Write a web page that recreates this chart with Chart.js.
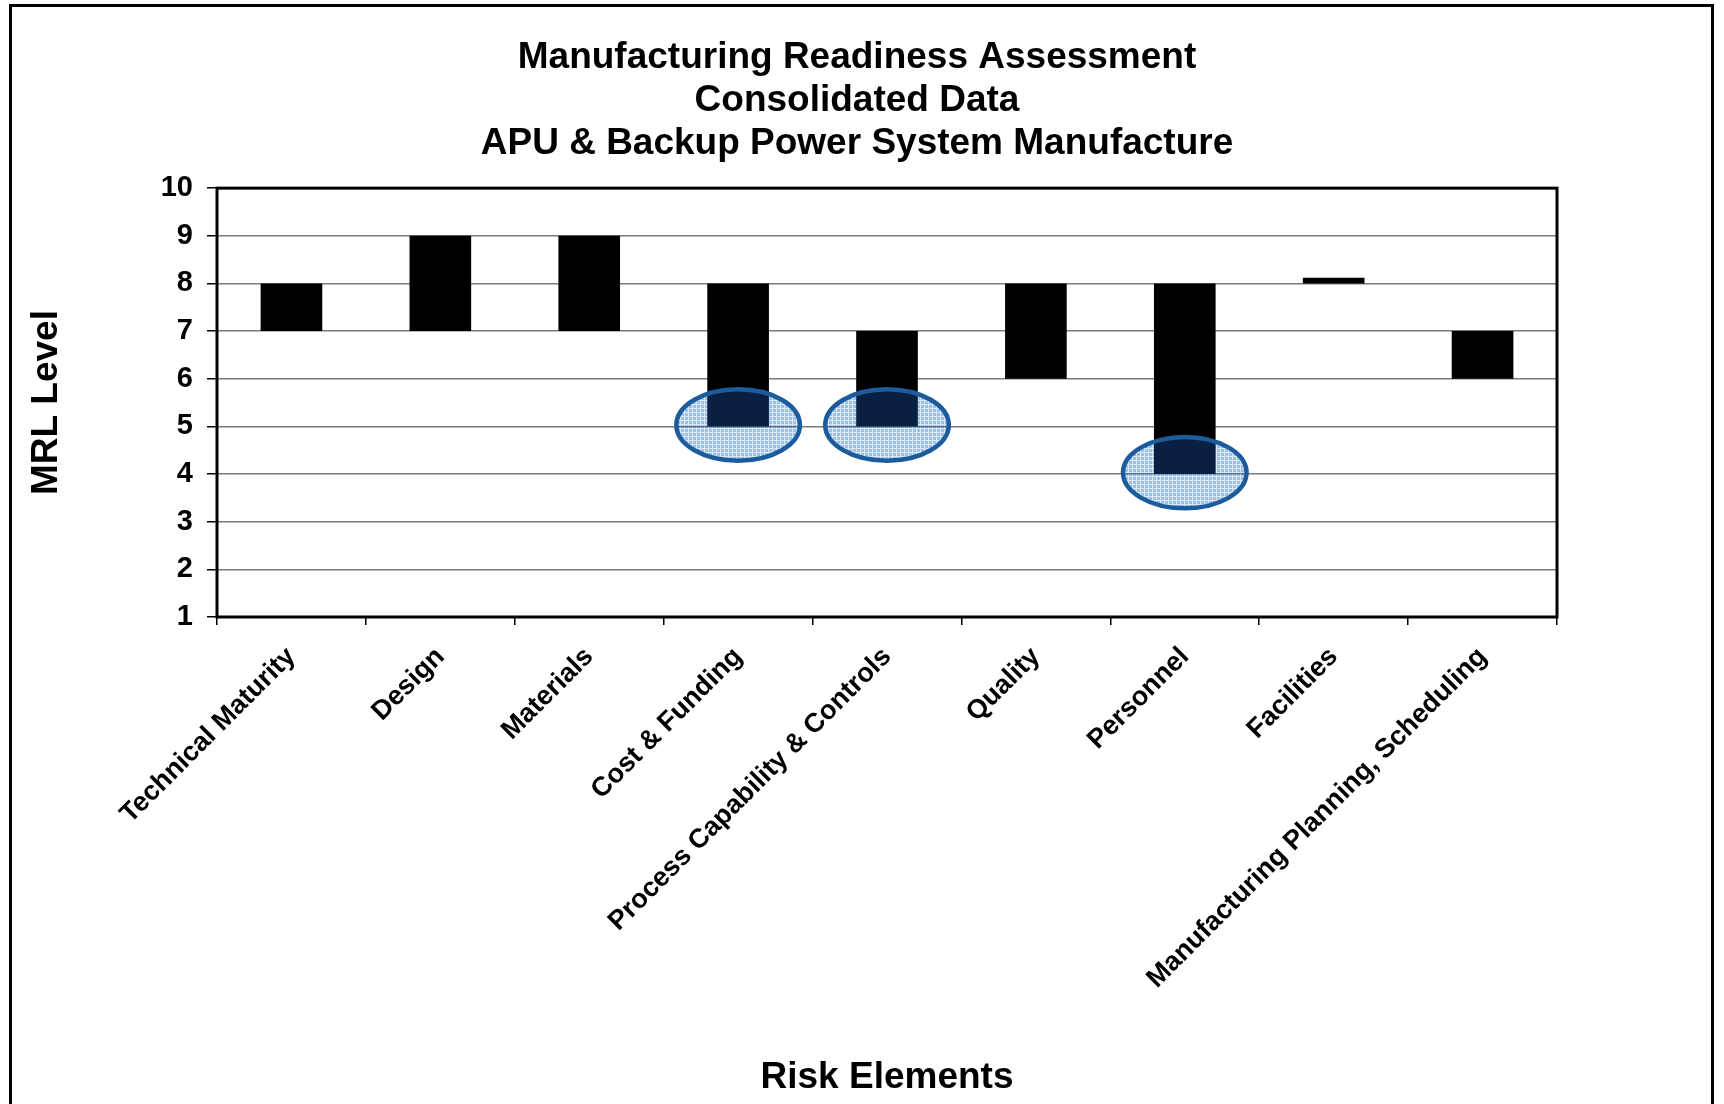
<!DOCTYPE html>
<html>
<head>
<meta charset="utf-8">
<title>Manufacturing Readiness Assessment</title>
<script src="https://cdn.jsdelivr.net/npm/chart.js@4.4.0/dist/chart.umd.min.js"></script>
<style>
  html, body { margin: 0; padding: 0; background: #fff; }
  #wrap { position: relative; width: 1724px; height: 1104px; overflow: hidden; }
  #frame { position: absolute; left: 9px; top: 4px; width: 1705px; height: 1200px; border: 3px solid #000; box-sizing: border-box; pointer-events: none; }
  canvas { position: absolute; left: 0; top: 0; }
</style>
</head>
<body>
<div id="wrap">
  <canvas id="mrlChart" width="1724" height="1104"></canvas>
  <div id="frame"></div>
</div>
<script>
// Risk elements and their MRL range (low .. high)
const categories = [
    'Technical Maturity',
    'Design',
    'Materials',
    'Cost & Funding',
    'Process Capability & Controls',
    'Quality',
    'Personnel',
    'Facilities',
    'Manufacturing Planning, Scheduling'
];
const lowLevels = [7, 7, 7, 5, 5, 6, 4, 8, 6];
const highLevels = [8, 9, 9, 8, 7, 8, 8, 8.12, 7];
const mrlTicks = [1, 2, 3, 4, 5, 6, 7, 8, 9, 10];
// elements circled at their lowest level
const flaggedElements = ['Cost & Funding', 'Process Capability & Controls', 'Personnel'];

const titleLines = [
    'Manufacturing Readiness Assessment',
    'Consolidated Data',
    'APU & Backup Power System Manufacture'
];

document.addEventListener('DOMContentLoaded', function () {
    Chart.defaults.font.family = "'Liberation Sans', Arial, sans-serif";
    Chart.defaults.color = '#000';

    // light blue dotted fill for the highlight ellipses
    const tile = document.createElement('canvas');
    tile.width = 4;
    tile.height = 4;
    const t = tile.getContext('2d');
    t.fillStyle = '#9cb8de';
    t.fillRect(0, 0, 4, 4);
    t.fillStyle = '#d8e4f3';
    t.fillRect(0, 0, 4, 1);
    t.fillRect(0, 0, 1, 4);

    const frameBox = {
        id: 'frameBox',
        afterDatasetsDraw(chart) {
            const { ctx, chartArea: a } = chart;
            ctx.save();
            ctx.strokeStyle = '#000';
            ctx.lineWidth = 3;
            ctx.strokeRect(a.left, a.top, a.right - a.left, a.bottom - a.top);
            ctx.restore();
        }
    };

    const riskEllipses = {
        id: 'riskEllipses',
        afterDatasetsDraw(chart) {
            const { ctx, scales: { x, y } } = chart;
            const pattern = ctx.createPattern(tile, 'repeat');
            const catWidth = x.getPixelForValue(1) - x.getPixelForValue(0);
            ctx.save();
            flaggedElements.forEach(function (name) {
                const i = categories.indexOf(name);
                const cx = x.getPixelForValue(i);
                const cy = y.getPixelForValue(lowLevels[i] + 0.03);
                const rx = catWidth * 0.415;
                const ry = Math.abs(y.getPixelForValue(lowLevels[i] + 0.75) - y.getPixelForValue(lowLevels[i]));
                ctx.beginPath();
                ctx.ellipse(cx, cy, rx, ry, 0, 0, Math.PI * 2);
                ctx.globalCompositeOperation = 'multiply';
                ctx.fillStyle = pattern;
                ctx.fill();
                ctx.globalCompositeOperation = 'screen';
                ctx.fillStyle = 'rgb(10, 32, 66)';
                ctx.fill();
                ctx.globalCompositeOperation = 'source-over';
                ctx.lineWidth = 4.5;
                ctx.strokeStyle = '#1c5c9c';
                ctx.stroke();
            });
            ctx.restore();
        }
    };

    const ctx = document.getElementById('mrlChart').getContext('2d');
    const mrlChart = new Chart(ctx, {
        type: 'bar',
        data: {
            labels: categories,
            datasets: [{
                label: 'MRL Range',
                data: lowLevels.map(function (lo, i) { return [lo, highLevels[i]]; }),
                backgroundColor: '#000',
                borderWidth: 0,
                barPercentage: 0.414,
                categoryPercentage: 1
            }]
        },
        options: {
            responsive: false,
            animation: false,
            layout: {
                padding: { left: 10, right: 20, top: 0, bottom: 0 }
            },
            plugins: {
                legend: { display: false },
                tooltip: { enabled: false },
                title: {
                    display: true,
                    text: titleLines,
                    color: '#000',
                    font: { size: 37, weight: 'bold', lineHeight: 1.15 },
                    padding: { top: 37, bottom: 23.5 }
                }
            },
            scales: {
                x: {
                    border: { display: false },
                    grid: {
                        offset: true,
                        drawOnChartArea: false,
                        drawTicks: true,
                        tickLength: 8,
                        color: '#000',
                        lineWidth: 1.5
                    },
                    ticks: {
                        autoSkip: false,
                        maxRotation: 45,
                        minRotation: 45,
                        padding: 16,
                        font: { size: 27, weight: 'bold' }
                    },
                    title: {
                        display: true,
                        text: 'Risk Elements',
                        font: { size: 37, weight: 'bold' },
                        padding: { top: 0, bottom: 4 }
                    },
                    afterFit: function (scale) { scale.height = 487; }
                },
                y: {
                    min: mrlTicks[0],
                    max: mrlTicks[mrlTicks.length - 1],
                    border: { display: false },
                    grid: {
                        color: '#7a7a7a',
                        lineWidth: 1.5,
                        tickLength: 10,
                        tickColor: '#000'
                    },
                    ticks: {
                        stepSize: 1,
                        padding: 14,
                        font: { size: 29, weight: 'bold' }
                    },
                    title: {
                        display: true,
                        text: 'MRL Level',
                        font: { size: 37, weight: 'bold' },
                        padding: { top: 15, bottom: 0 }
                    },
                    afterFit: function (scale) { scale.width = 207; }
                },
                spacer: {
                    type: 'linear',
                    position: 'right',
                    border: { display: false },
                    grid: { display: false },
                    ticks: { display: false },
                    afterFit: function (scale) { scale.width = 147; }
                }
            }
        },
        plugins: [frameBox, riskEllipses]
    });

    window.mrlChart = mrlChart;
});
</script>
</body>
</html>
